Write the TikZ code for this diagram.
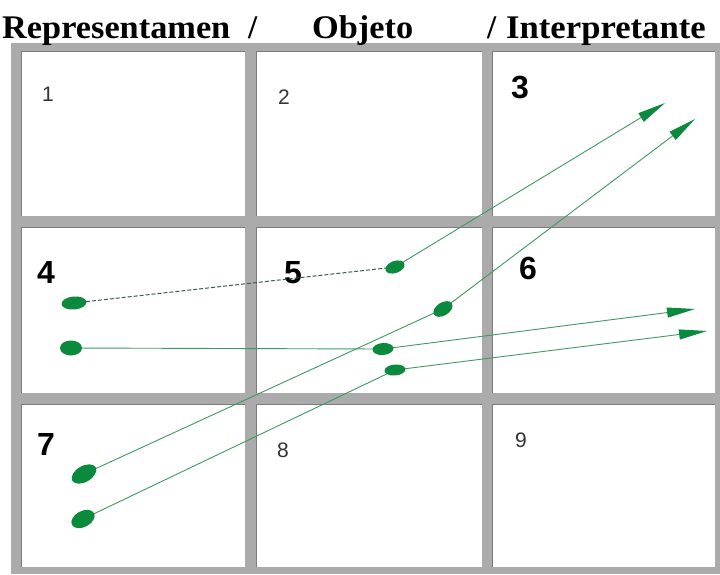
\documentclass[tikz,border=0pt]{standalone}
\usepackage{fontspec}
\setmainfont{Liberation Serif}
\newfontfamily\numfont{Liberation Sans}
\usetikzlibrary{arrows.meta,shapes.geometric}
\definecolor{barfill}{HTML}{ABABAB}
\definecolor{barline}{HTML}{7C7C7C}
\definecolor{dotgreen}{HTML}{0A8A3C}
\definecolor{linegreen}{HTML}{3E9A60}
\definecolor{dashgreen}{HTML}{3A5E45}
\begin{document}
\begin{tikzpicture}[x=1pt,y=-1pt,
  titletext/.style={inner sep=0pt,anchor=base west,font=\fontsize{33}{36}\selectfont\bfseries},
  cellbox/.style={fill=white,inner sep=0pt,outer sep=0pt,anchor=north west},
  celledge/.style={draw=barline,line width=1pt},
  bignum/.style={inner sep=0pt,anchor=base west,font=\numfont\bfseries\fontsize{32}{34}\selectfont},
  smallnum/.style={inner sep=0pt,anchor=base west,font=\numfont\fontsize{21}{24}\selectfont,text=black!80},
  greendot/.style={ellipse,fill=dotgreen,inner sep=0pt},
  greenline/.style={draw=linegreen,line width=0.9pt},
  dashline/.style={draw=dashgreen,line width=1pt,dash pattern=on 4pt off 2pt},
  arrowtip/.style={-{Triangle[length=28pt,width=10pt,color=dotgreen]}},
]
\useasboundingbox (0,0) rectangle (720,574);
\fill[white] (0,0) rectangle (720,574);
% frame
\fill[barfill] (11,43) rectangle (720,574);
% cells
\node[cellbox,minimum width=224pt,minimum height=165pt] (c1) at (21,51) {};
\node[cellbox,minimum width=226pt,minimum height=165pt] (c2) at (256,51) {};
\node[cellbox,minimum width=223pt,minimum height=165pt] (c3) at (492,51) {};
\node[cellbox,minimum width=224pt,minimum height=166pt] (c4) at (21,227) {};
\node[cellbox,minimum width=226pt,minimum height=166pt] (c5) at (256,227) {};
\node[cellbox,minimum width=223pt,minimum height=166pt] (c6) at (492,227) {};
\node[cellbox,minimum width=224pt,minimum height=163pt] (c7) at (21,404) {};
\node[cellbox,minimum width=226pt,minimum height=163pt] (c8) at (256,404) {};
\node[cellbox,minimum width=223pt,minimum height=163pt] (c9) at (492,404) {};
\foreach \c in {c1,c2,c3,c4,c5,c6,c7,c8,c9}
  \draw[celledge] (\c.south west) -- (\c.north west) -- (\c.north east);
% title
\node[titletext] (t1) at (2,38) {\scalebox{1.04}[1]{Representamen}};
\node[titletext] (t2) at (248,38) {/};
\node[titletext] (t3) at (312,38) {\scalebox{1.04}[1]{Objeto}};
\node[titletext] (t4) at (487,38) {/};
\node[titletext] (t5) at (506,38) {\scalebox{1.05}[1]{Interpretante}};
% cell numbers
\node[smallnum] (n1) at (42,101) {1};
\node[smallnum] (n2) at (278,104) {2};
\node[bignum] (n3) at (511,98) {3};
\node[bignum] (n4) at (37,283) {4};
\node[bignum] (n5) at (284,283) {5};
\node[bignum] (n6) at (519,279) {6};
\node[bignum] (n7) at (37,455) {7};
\node[smallnum] (n8) at (277,457) {8};
\node[smallnum] (n9) at (515,447) {9};
% dot centres and arrow ends
\coordinate (pA) at (74,303);
\coordinate (pB) at (71,348);
\coordinate (pC) at (84,474);
\coordinate (pD) at (83,519);
\coordinate (pE) at (395,267);
\coordinate (pF) at (443,309);
\coordinate (pG) at (383,349);
\coordinate (pH) at (395,370);
\coordinate (T1) at (665,103);
\coordinate (T2) at (695,119);
\coordinate (T3) at (695,309);
\coordinate (T4) at (707,331);
% connectors
\draw[dashline] (pA) -- (pE);
\draw[greenline,arrowtip] (pE) -- (T1);
\draw[greenline] (pC) -- (pF);
\draw[greenline,arrowtip] (pF) -- (T2);
\draw[greenline] (pB) -- (pG);
\draw[greenline,arrowtip] (pG) -- (T3);
\draw[greenline] (pD) -- (pH);
\draw[greenline,arrowtip] (pH) -- (T4);
% dots
\node[greendot,minimum width=25pt,minimum height=13pt,rotate=5] (dA) at (pA) {};
\node[greendot,minimum width=22pt,minimum height=15pt] (dB) at (pB) {};
\node[greendot,minimum width=27pt,minimum height=16pt,rotate=30] (dC) at (pC) {};
\node[greendot,minimum width=25pt,minimum height=16pt,rotate=28] (dD) at (pD) {};
\node[greendot,minimum width=20pt,minimum height=12pt,rotate=20] (dE) at (pE) {};
\node[greendot,minimum width=21pt,minimum height=13pt,rotate=32] (dF) at (pF) {};
\node[greendot,minimum width=21pt,minimum height=12pt,rotate=5] (dG) at (pG) {};
\node[greendot,minimum width=21pt,minimum height=11pt,rotate=5] (dH) at (pH) {};
\end{tikzpicture}
\end{document}
